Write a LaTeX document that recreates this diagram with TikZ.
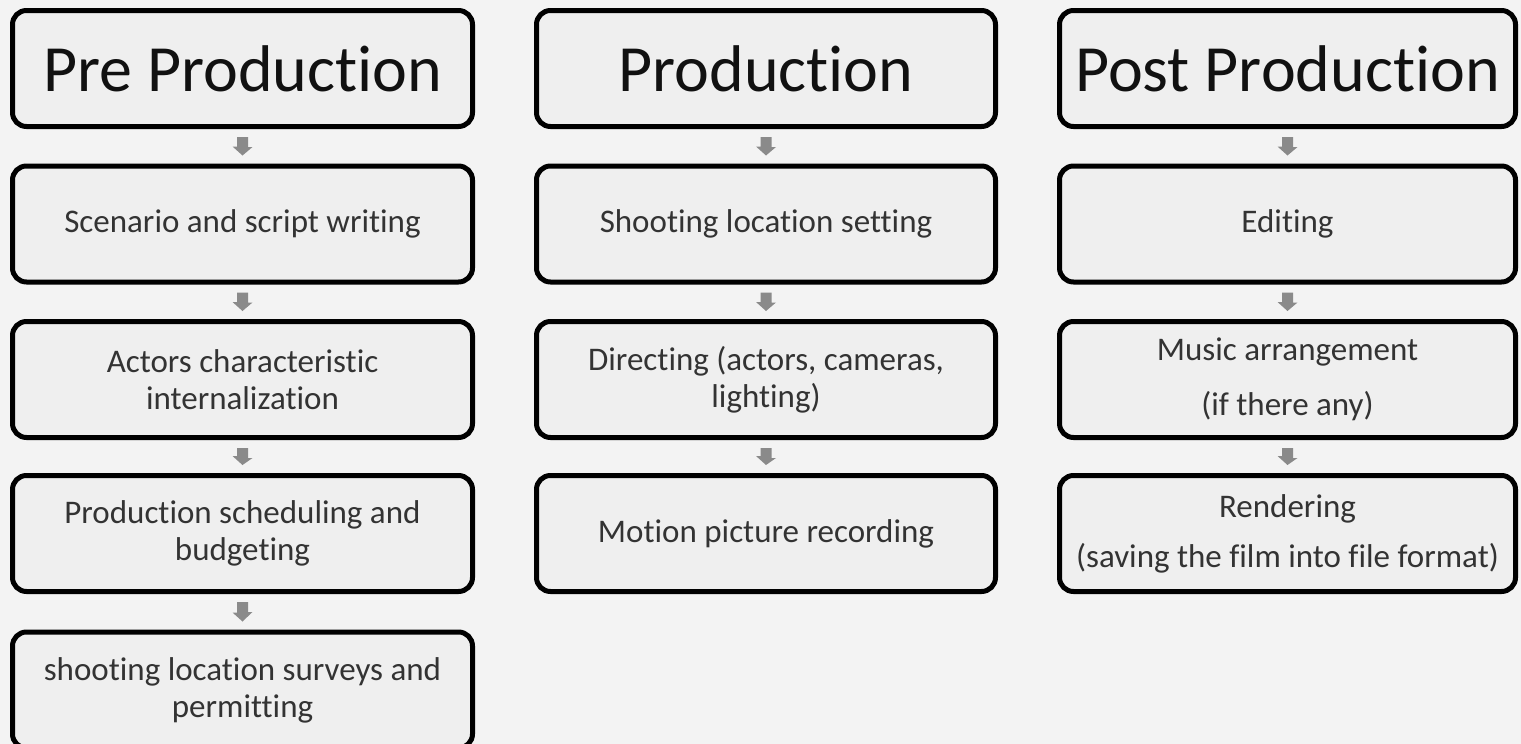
\documentclass[tikz,border=0pt]{standalone}
\usepackage{fontspec}
\setmainfont{Carlito}[Ligatures=NoCommon]
\definecolor{bg}{HTML}{F3F3F3}
\definecolor{boxfill}{HTML}{EFEFEF}
\definecolor{txt}{HTML}{333333}
\definecolor{ttl}{HTML}{111111}
\definecolor{arr}{HTML}{8A8A8A}
\begin{document}
\begin{tikzpicture}[x=1pt,y=-1pt,
  box/.style={draw=black, line width=5pt, rounded corners=14pt, fill=boxfill,
    minimum height=116pt, inner sep=0pt, align=center, text=txt,
    font=\fontsize{33}{37}\selectfont},
  c1/.style={box, minimum width=460pt},
  c2/.style={box, minimum width=459pt},
  c3/.style={box, minimum width=456pt},
  ttlfont/.style={font=\fontsize{66}{72}\selectfont, text=ttl},
  flow/.style={fill=arr}]
\fill[bg] (0,0) rectangle (1521,744);
\useasboundingbox (0,0) rectangle (1521,744);

% Column 1
\node[c1, ttlfont] (a1) at (242.5,68.5) {Pre Production};
\node[c1] (a2) at (242.5,224) {Scenario and script writing};
\node[c1] (a3) at (242.5,379.5) {Actors characteristic\\internalization};
\node[c1] (a4) at (242.5,533.5) {Production scheduling and\\budgeting};
\node[c1] (a5) at (242.5,690) {shooting location surveys and\\permitting};

% Column 2
\node[c2, ttlfont] (b1) at (766,68.5) {Production};
\node[c2] (b2) at (766,224) {Shooting location setting};
\node[c2] (b3) at (766,379.5) {Directing (actors, cameras,\\lighting)};
\node[c2] (b4) at (766,533.5) {Motion picture recording};

% Column 3
\node[c3, ttlfont] (d1) at (1287.5,68.5) {Post Production};
\node[c3] (d2) at (1287.5,224) {Editing};
\node[c3] (d3) at (1287.5,379.5) {Music arrangement\\[18pt](if there any)};
\node[c3] (d4) at (1287.5,533.5) {Rendering\\[13pt](saving the film into file format)};

% Block arrows from box to box
\foreach \p/\q in {a1/a2,a2/a3,a3/a4,a4/a5,b1/b2,b2/b3,b3/b4,d1/d2,d2/d3,d3/d4}{
  \path (\p.south) ++(0,8) coordinate (s-\p);
  \path (\q.north) ++(0,-8) coordinate (e-\p);
  \fill[flow] (s-\p) ++(-5.5,0) -- ++(11,0) -- ++(0,10) -- ++(4.5,0)
     -- (e-\p) -- ++(-10,-9) -- ++(4.5,0) -- cycle;
}
\end{tikzpicture}
\end{document}
